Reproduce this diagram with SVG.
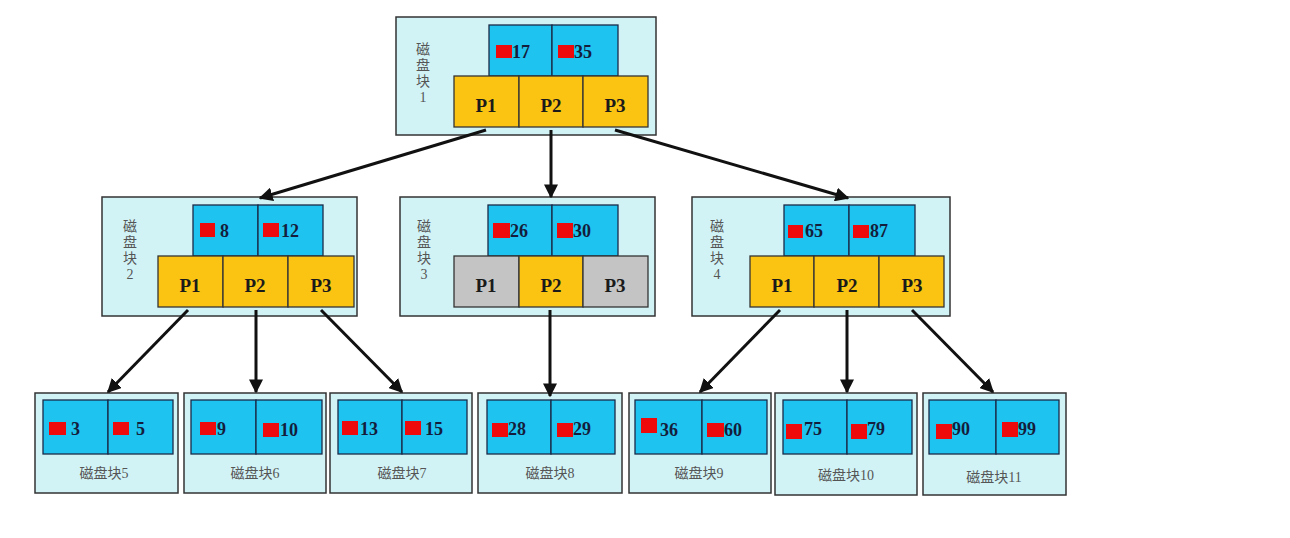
<svg xmlns="http://www.w3.org/2000/svg" width="1290" height="538" viewBox="0 0 1290 538">
<style>
.blk{fill:#d2f3f6;stroke:#333;stroke-width:1.5}
.key{fill:#1fc3ef;stroke:#1b2a48;stroke-width:1.3}
.p{fill:#fbc312;stroke:#333;stroke-width:1.3}
.g{fill:#c4c4c4;stroke:#333;stroke-width:1.3}
.sq{fill:#ee0a0a}
.num{font-family:"Liberation Serif",serif;font-weight:bold;font-size:18px;fill:#141e3c}
.pl{font-family:"Liberation Serif",serif;font-weight:bold;font-size:19px;fill:#1a1a1a;text-anchor:middle}
.lb{font-family:"Liberation Serif","Noto Sans CJK SC",serif;font-size:14px;fill:#555;text-anchor:middle}
.arr{stroke:#111;stroke-width:3;fill:none;marker-end:url(#ah)}
</style>
<defs>
<marker id="ah" viewBox="0 0 10 10" refX="9" refY="5" markerWidth="14" markerHeight="14" markerUnits="userSpaceOnUse" orient="auto">
<path d="M0,0 L10,5 L0,10 z" fill="#111"/>
</marker>
</defs>
<rect width="1290" height="538" fill="#fff"/>

<g id="block1">
<rect class="blk" x="396" y="17" width="260" height="118"/>
<text class="lb" x="423" y="54">磁</text><text class="lb" x="423" y="70">盘</text><text class="lb" x="423" y="86">块</text><text class="lb" x="423" y="102">1</text>
<rect class="key" x="489" y="25" width="63" height="51"/><rect class="key" x="552" y="25" width="66" height="51"/>
<rect class="sq" x="496" y="45" width="16" height="13"/><text class="num" x="512" y="58">17</text>
<rect class="sq" x="558" y="45" width="16" height="13"/><text class="num" x="574" y="58">35</text>
<rect class="p" x="454" y="76" width="65" height="51"/><rect class="p" x="519" y="76" width="64" height="51"/><rect class="p" x="583" y="76" width="65" height="51"/>
<text class="pl" x="486" y="112">P1</text><text class="pl" x="551" y="112">P2</text><text class="pl" x="615" y="112">P3</text>
</g>

<g id="block2">
<rect class="blk" x="102" y="197" width="255" height="119"/>
<text class="lb" x="130" y="231">磁</text><text class="lb" x="130" y="247">盘</text><text class="lb" x="130" y="263">块</text><text class="lb" x="130" y="279">2</text>
<rect class="key" x="193" y="205" width="65" height="51"/><rect class="key" x="258" y="205" width="65" height="51"/>
<rect class="sq" x="200" y="223" width="15" height="14"/><text class="num" x="220" y="237">8</text>
<rect class="sq" x="263" y="223" width="16" height="14"/><text class="num" x="281" y="237">12</text>
<rect class="p" x="158" y="256" width="65" height="51"/><rect class="p" x="223" y="256" width="65" height="51"/><rect class="p" x="288" y="256" width="66" height="51"/>
<text class="pl" x="190" y="292">P1</text><text class="pl" x="255" y="292">P2</text><text class="pl" x="321" y="292">P3</text>
</g>

<g id="block3">
<rect class="blk" x="400" y="197" width="255" height="119"/>
<text class="lb" x="424" y="231">磁</text><text class="lb" x="424" y="247">盘</text><text class="lb" x="424" y="263">块</text><text class="lb" x="424" y="279">3</text>
<rect class="key" x="488" y="205" width="64" height="51"/><rect class="key" x="552" y="205" width="66" height="51"/>
<rect class="sq" x="493" y="223" width="17" height="15"/><text class="num" x="510" y="237">26</text>
<rect class="sq" x="557" y="223" width="16" height="15"/><text class="num" x="573" y="237">30</text>
<rect class="g" x="454" y="256" width="65" height="51"/><rect class="p" x="519" y="256" width="64" height="51"/><rect class="g" x="583" y="256" width="65" height="51"/>
<text class="pl" x="486" y="292">P1</text><text class="pl" x="551" y="292">P2</text><text class="pl" x="615" y="292">P3</text>
</g>

<g id="block4">
<rect class="blk" x="692" y="197" width="258" height="119"/>
<text class="lb" x="717" y="231">磁</text><text class="lb" x="717" y="247">盘</text><text class="lb" x="717" y="263">块</text><text class="lb" x="717" y="279">4</text>
<rect class="key" x="784" y="205" width="65" height="51"/><rect class="key" x="849" y="205" width="66" height="51"/>
<rect class="sq" x="788" y="225" width="15" height="13"/><text class="num" x="805" y="237">65</text>
<rect class="sq" x="853" y="225" width="16" height="13"/><text class="num" x="870" y="237">87</text>
<rect class="p" x="750" y="256" width="64" height="51"/><rect class="p" x="814" y="256" width="65" height="51"/><rect class="p" x="879" y="256" width="65" height="51"/>
<text class="pl" x="782" y="292">P1</text><text class="pl" x="847" y="292">P2</text><text class="pl" x="912" y="292">P3</text>
</g>

<g id="block5">
<rect class="blk" x="35" y="393" width="143" height="100"/>
<rect class="key" x="43" y="400" width="65" height="54"/><rect class="key" x="108" y="400" width="65" height="54"/>
<rect class="sq" x="49" y="422" width="17" height="13"/><text class="num" x="71" y="435">3</text>
<rect class="sq" x="113" y="422" width="16" height="13"/><text class="num" x="136" y="435">5</text>
<text class="lb" x="104" y="478">磁盘块5</text>
</g>

<g id="block6">
<rect class="blk" x="184" y="393" width="142" height="100"/>
<rect class="key" x="191" y="400" width="65" height="54"/><rect class="key" x="256" y="400" width="66" height="54"/>
<rect class="sq" x="200" y="422" width="16" height="13"/><text class="num" x="217" y="435">9</text>
<rect class="sq" x="263" y="423" width="16" height="14"/><text class="num" x="280" y="436">10</text>
<text class="lb" x="255" y="478">磁盘块6</text>
</g>

<g id="block7">
<rect class="blk" x="330" y="393" width="142" height="100"/>
<rect class="key" x="338" y="400" width="64" height="54"/><rect class="key" x="402" y="400" width="65" height="54"/>
<rect class="sq" x="342" y="421" width="16" height="14"/><text class="num" x="360" y="435">13</text>
<rect class="sq" x="405" y="421" width="16" height="14"/><text class="num" x="425" y="435">15</text>
<text class="lb" x="402" y="478">磁盘块7</text>
</g>

<g id="block8">
<rect class="blk" x="478" y="393" width="144" height="100"/>
<rect class="key" x="487" y="400" width="64" height="54"/><rect class="key" x="551" y="400" width="64" height="54"/>
<rect class="sq" x="492" y="423" width="16" height="14"/><text class="num" x="508" y="435">28</text>
<rect class="sq" x="557" y="423" width="16" height="14"/><text class="num" x="573" y="435">29</text>
<text class="lb" x="550" y="478">磁盘块8</text>
</g>

<g id="block9">
<rect class="blk" x="629" y="393" width="142" height="100"/>
<rect class="key" x="635" y="400" width="67" height="54"/><rect class="key" x="702" y="400" width="65" height="54"/>
<rect class="sq" x="641" y="418" width="16" height="15"/><text class="num" x="660" y="436">36</text>
<rect class="sq" x="707" y="423" width="17" height="14"/><text class="num" x="724" y="436">60</text>
<text class="lb" x="699" y="478">磁盘块9</text>
</g>

<g id="block10">
<rect class="blk" x="775" y="393" width="142" height="102"/>
<rect class="key" x="783" y="400" width="64" height="54"/><rect class="key" x="847" y="400" width="65" height="54"/>
<rect class="sq" x="786" y="424" width="16" height="15"/><text class="num" x="804" y="435">75</text>
<rect class="sq" x="851" y="424" width="16" height="15"/><text class="num" x="867" y="435">79</text>
<text class="lb" x="846" y="480">磁盘块10</text>
</g>

<g id="block11">
<rect class="blk" x="923" y="393" width="143" height="102"/>
<rect class="key" x="929" y="400" width="67" height="54"/><rect class="key" x="996" y="400" width="63" height="54"/>
<rect class="sq" x="936" y="424" width="16" height="15"/><text class="num" x="952" y="435">90</text>
<rect class="sq" x="1002" y="422" width="16" height="15"/><text class="num" x="1018" y="435">99</text>
<text class="lb" x="994" y="482">磁盘块11</text>
</g>

<g id="connectors">
<line class="arr" x1="486" y1="130" x2="260" y2="198"/>
<line class="arr" x1="551" y1="130" x2="551" y2="197"/>
<line class="arr" x1="615" y1="130" x2="848" y2="198"/>
<line class="arr" x1="188" y1="310" x2="108" y2="392"/>
<line class="arr" x1="256" y1="310" x2="256" y2="392"/>
<line class="arr" x1="321" y1="310" x2="402" y2="392"/>
<line class="arr" x1="550" y1="310" x2="550" y2="396"/>
<line class="arr" x1="780" y1="310" x2="700" y2="392"/>
<line class="arr" x1="847" y1="310" x2="847" y2="392"/>
<line class="arr" x1="912" y1="310" x2="993" y2="392"/>
</g>
</svg>
